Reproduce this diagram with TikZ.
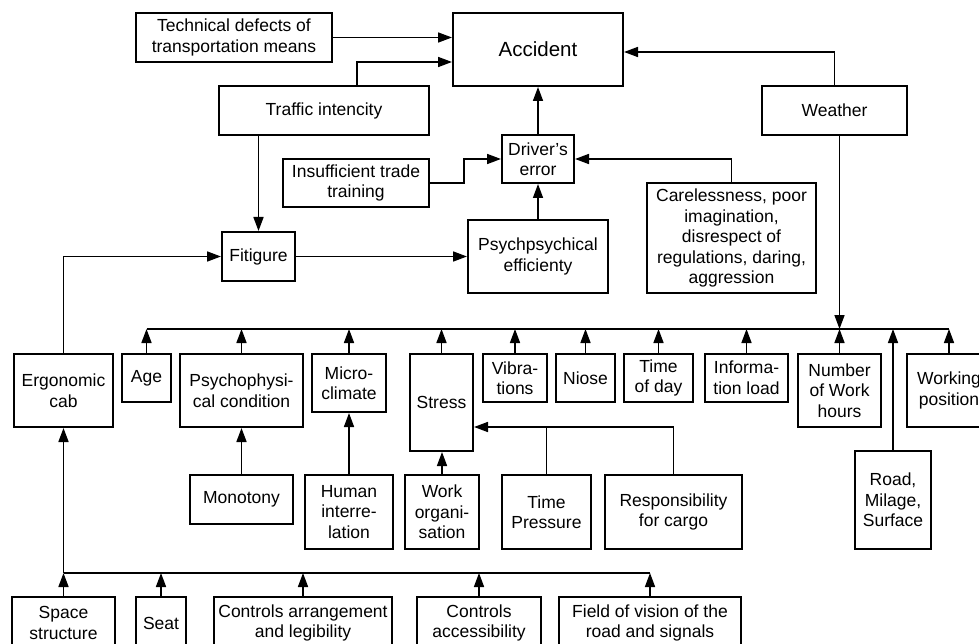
\documentclass[tikz,border=0pt]{standalone}
\usepackage{fontspec}
\setmainfont{Liberation Sans}
\usetikzlibrary{arrows.meta}
\tikzset{
  box/.style={draw, line width=2pt, inner sep=0pt, align=center, font=\fontsize{17.5}{20.5}\selectfont},
  arr/.style={line width=1.6pt, -{Triangle[length=14pt,width=10pt]}},
  ln/.style={line width=1.6pt}
}
\newcommand\mybox[6]{\node[box,minimum width={(#4-#2)*1pt},minimum height={(#5-#3)*1pt}] (#1) at ({(#2+#4)/2},{(#3+#5)/2}) {#6};}
\begin{document}
\begin{tikzpicture}[x=1pt,y=-1pt]
\useasboundingbox (0,0) rectangle (979,644);
\mybox{tech}{136}{13}{332}{62}{Technical defects of\\transportation means}
\mybox{accident}{453}{13}{623}{86}{\fontsize{20.5}{24}\selectfont Accident}
\mybox{traffic}{219}{86}{429}{135}{Traffic intencity}
\mybox{weather}{762}{86}{907}{135}{Weather}
\mybox{driver}{502}{135}{574}{183}{Driver’s\\error}
\mybox{insuff}{283}{159}{429}{207}{Insufficient trade\\training}
\mybox{careless}{647}{183}{816}{293}{Carelessness, poor\\imagination,\\disrespect of\\regulations, daring,\\aggression}
\mybox{fatigue}{222}{232}{295}{281}{Fitigure}
\mybox{psyeff}{468}{220}{608}{293}{Psychpsychical\\efficienty}
\mybox{ergo}{14}{354}{113}{427}{Ergonomic\\cab}
\mybox{age}{122}{354}{171}{402}{Age}
\mybox{psychophys}{180}{354}{303}{427}{Psychophysi-\\cal condition}
\mybox{micro}{312}{354}{386}{412}{Micro-\\climate}
\mybox{stress}{410}{354}{473}{451}{Stress}
\mybox{vibr}{483}{354}{547}{402}{Vibra-\\tions}
\mybox{niose}{556}{354}{615}{402}{Niose}
\mybox{timeday}{624}{354}{693}{402}{Time\\of day}
\mybox{info}{705}{354}{788}{402}{Informa-\\tion load}
\mybox{numwork}{798}{354}{881}{427}{Number\\of Work\\hours}
\mybox{working}{907}{354}{991}{427}{Working\\position}
\mybox{monotony}{190}{475}{293}{524}{Monotony}
\mybox{human}{305}{475}{393}{549}{Human\\interre-\\lation}
\mybox{workorg}{405}{475}{479}{549}{Work\\organi-\\sation}
\mybox{timepress}{502}{475}{591}{549}{Time\\Pressure}
\mybox{resp}{605}{475}{742}{549}{Responsibility\\for cargo}
\mybox{road}{855}{451}{931}{549}{Road,\\Milage,\\Surface}
\mybox{space}{12}{597}{115}{649}{Space\\structure}
\mybox{seat}{136}{597}{186}{649}{Seat}
\mybox{ctrlarr}{214}{597}{392}{649}{Controls arrangement\\and legibility}
\mybox{ctrlacc}{417}{597}{541}{649}{Controls\\accessibility}
\mybox{field}{559}{597}{741}{649}{Field of vision of the\\road and signals}

\coordinate (bus) at (0,329);
\coordinate (bbus) at (0,573);

% top section
\draw[arr] (tech.east) -- (tech.east -| accident.west);
\draw[arr] ([xshift=33pt]traffic.north) |- ([yshift=-12.5pt]accident.west);
\draw[arr] (weather.north) |- ([yshift=-2.5pt]accident.east);
\draw[arr] (driver.north) -- (accident.south);
\draw[arr] (insuff.east) -- ++(34pt,0) |- (driver.west);
\draw[arr] (careless.north) |- (driver.east);
\draw[arr] (psyeff.north) -- (driver.south);
\draw[arr] (traffic.south -| fatigue.north) -- (fatigue.north);
\draw[arr] (fatigue.east) -- (fatigue.east -| psyeff.west);
\draw[arr] (ergo.north) |- (fatigue.west);

% main bus
\draw[ln] (age.north |- bus) -- (working.north |- bus);
\draw[arr] (weather.south -| numwork.north) -- (numwork.north |- bus);
\foreach \n in {age,psychophys,micro,stress,vibr,niose,timeday,info,numwork,working,road}
  \draw[arr] (\n.north) -- (\n.north |- bus);

\draw[arr] (monotony.north) -- (monotony.north |- psychophys.south);
\draw[arr] (human.north) -- (human.north |- micro.south);
\draw[arr] (workorg.north) -- (workorg.north |- stress.south);
\coordinate (stressin) at ([yshift=-24.5pt]stress.east);
\draw[arr] (resp.north) |- (stressin);
\draw[ln] (timepress.north) -- (timepress.north |- stressin);

% bottom bus
\draw[ln] (space.north |- bbus) -- (field.north |- bbus);
\draw[arr] (ergo.south |- bbus) -- (ergo.south);
\foreach \n in {space,seat,ctrlarr,ctrlacc,field}
  \draw[arr] (\n.north) -- (\n.north |- bbus);
\end{tikzpicture}
\end{document}
